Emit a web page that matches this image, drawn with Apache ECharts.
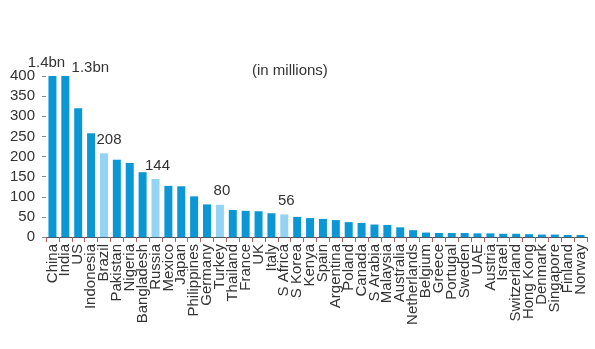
<!DOCTYPE html>
<html>
<head>
<meta charset="utf-8">
<script src="https://cdn.jsdelivr.net/npm/echarts@6/dist/echarts.min.js"></script>
<style>
  html, body { margin: 0; padding: 0; background: #fff; }
  #chart { width: 595px; height: 349px; }
</style>
</head>
<body>
<div id="chart"></div>
<script>
// Population by country, millions
const countries = ['China', 'India', 'US', 'Indonesia', 'Brazil', 'Pakistan', 'Nigeria', 'Bangladesh',
  'Russia', 'Mexico', 'Japan', 'Philippines', 'Germany', 'Turkey', 'Thailand', 'France', 'UK', 'Italy',
  'S Africa', 'S Korea', 'Kenya', 'Spain', 'Argentina', 'Poland', 'Canada', 'S Arabia', 'Malaysia',
  'Australia', 'Netherlands', 'Belgium', 'Greece', 'Portugal', 'Sweden', 'UAE', 'Austria', 'Israel',
  'Switzerland', 'Hong Kong', 'Denmark', 'Singapore', 'Finland', 'Norway'];
const population = [1400, 1300, 320, 258, 208, 192, 184, 161,
  144, 127, 126, 101, 81, 80, 67, 65, 64, 59,
  56, 50, 47, 45, 42, 37, 35, 31, 30,
  24, 17, 11, 10, 10, 10, 9, 9, 8,
  8, 7, 6, 6, 5, 5];
// Countries whose value is printed above the bar (highlighted in light blue)
const highlighted = ['Brazil', 'Russia', 'Turkey', 'S Africa'];
// Countries that overflow the axis, labelled in billions at the top edge
const overflow = ['China', 'India'];
const yTicks = [0, 50, 100, 150, 200, 250, 300, 350, 400];

const mainBlue = '#0b97d5';
const lightBlue = '#93d3f3';
const font = '"Liberation Sans", Arial, sans-serif';

const fmtBn = v => (v / 1000).toFixed(1) + 'bn';

const labelOffsets = { 'Brazil': [5, 0] };

const barData = countries.map((c, i) => {
  const item = { value: population[i] };
  if (highlighted.includes(c)) {
    item.itemStyle = { color: lightBlue };
    item.label = { show: true, offset: labelOffsets[c] || [2, 0] };
  }
  return item;
});

const overflowOffsets = { 'China': [-6, 0], 'India': [25, 5] };
const yMax = yTicks[yTicks.length - 1];

const chart = echarts.init(document.getElementById('chart'), null, { renderer: 'canvas' });
chart.setOption({
  animation: false,
  backgroundColor: '#ffffff',
  title: {
    text: '(in millions)',
    left: 247,
    top: 58,
    textStyle: { fontFamily: font, fontSize: 15, fontWeight: 'normal', color: '#333' }
  },
  grid: { left: 46, right: 8, top: 76, bottom: 112, containLabel: false },
  xAxis: {
    type: 'category',
    data: countries,
    boundaryGap: true,
    axisLine: { lineStyle: { color: '#4a5a6a', width: 1 } },
    axisTick: { show: true, length: 5, interval: 0, lineStyle: { color: '#b06060' } },
    axisLabel: {
      interval: 0,
      rotate: 90,
      margin: 7,
      fontFamily: font,
      fontSize: 15,
      color: '#333'
    }
  },
  yAxis: {
    type: 'value',
    min: yTicks[0],
    max: yMax,
    interval: yTicks[1] - yTicks[0],
    splitLine: { show: false },
    axisLine: { show: false },
    axisTick: { show: true, length: 4, lineStyle: { color: '#888' } },
    axisLabel: { margin: 11, fontFamily: font, fontSize: 15, color: '#333' }
  },
  series: [{
    type: 'bar',
    data: barData,
    barWidth: 8,
    clip: true,
    itemStyle: { color: mainBlue },
    label: {
      show: false,
      position: 'top',
      distance: 6,
      fontFamily: font,
      fontSize: 15,
      color: '#333'
    },
    markPoint: {
      symbol: 'circle',
      symbolSize: 0,
      label: {
        show: true,
        position: 'top',
        distance: 6,
        fontFamily: font,
        fontSize: 15,
        color: '#333',
        formatter: p => fmtBn(p.value)
      },
      data: overflow.map(c => ({
        coord: [c, yMax],
        value: population[countries.indexOf(c)],
        label: { offset: overflowOffsets[c] }
      }))
    }
  }]
});
</script>
</body>
</html>
